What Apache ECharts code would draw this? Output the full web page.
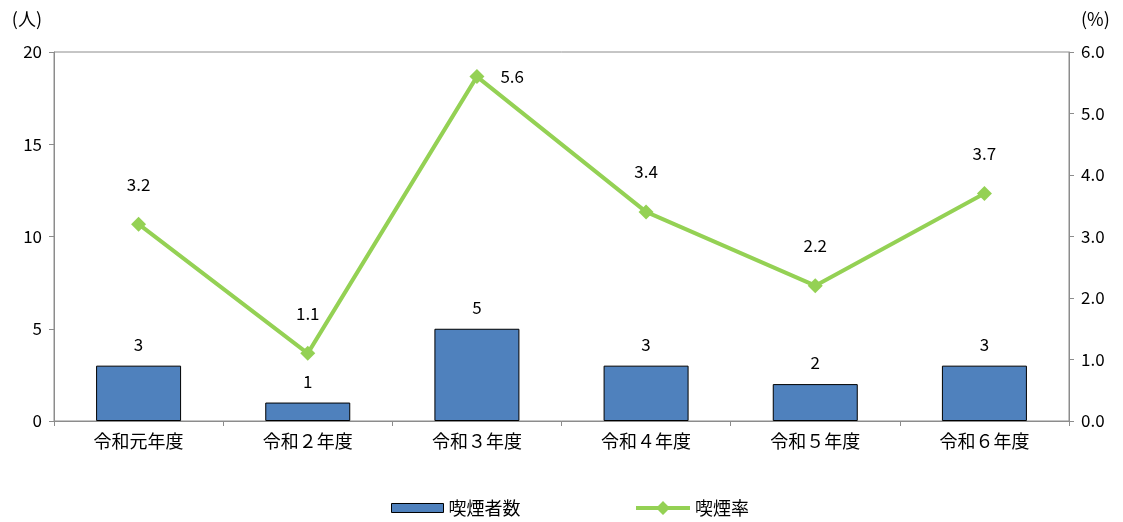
<!DOCTYPE html>
<html><head><meta charset="utf-8">
<script src="https://cdn.jsdelivr.net/npm/echarts@6/dist/echarts.min.js"></script>
<style>html,body{margin:0;padding:0;background:#fff}#c{width:1123px;height:522px}</style>
</head><body><div id="c"></div>
<script>
const categories = ['令和元年度','令和２年度','令和３年度','令和４年度','令和５年度','令和６年度'];
const smokers = [3, 1, 5, 3, 2, 3];
const smokingRate = [3.2, 1.1, 5.6, 3.4, 2.2, 3.7];
const rateLabelPos = ['top','top','right','top','top','top'];
const FONT = '"Noto Sans CJK JP", "Noto Sans", sans-serif';
const LINE_LEGEND_ICON = 'path://M0,5H22L27,0L32,5H54V9H32L27,14L22,9H0Z';

const chart = echarts.init(document.getElementById('c'), null, {renderer:'canvas'});
chart.setOption({
  animation: false,
  textStyle: {fontFamily: FONT, color: '#000'},
  grid: {left: 54, right: 54, top: 52, bottom: 101, show: true, borderColor: '#8c8c8c', borderWidth: 1},
  legend: [
    {
      left: 391, top: 499, padding: 0, itemWidth: 52, itemHeight: 9, itemGap: 6,
      textStyle: {fontFamily: FONT, fontSize: 18, color: '#000'},
      data: [{name: '喫煙者数', icon: 'rect', itemStyle: {color: '#4F81BD', borderColor: '#000', borderWidth: 1}}]
    },
    {
      left: 636, top: 499, padding: 0, itemWidth: 54, itemHeight: 14, itemGap: 6,
      textStyle: {fontFamily: FONT, fontSize: 18, color: '#000'},
      data: [{name: '喫煙率', icon: LINE_LEGEND_ICON, itemStyle: {color: '#94D154', borderWidth: 0}}]
    }
  ],
  xAxis: {
    type: 'category', data: categories, boundaryGap: true,
    axisLine: {lineStyle: {color: '#8c8c8c', width: 1}},
    axisTick: {show: true, alignWithLabel: false, length: 5, lineStyle: {color: '#8c8c8c'}},
    axisLabel: {fontFamily: FONT, fontSize: 18, color: '#000', margin: 11}
  },
  yAxis: [
    {
      type: 'value', min: 0, max: 20, interval: 5,
      name: '(人)', nameLocation: 'end', nameGap: 24,
      nameTextStyle: {fontFamily: FONT, fontSize: 18, color: '#000', align: 'right', padding: [0, 12, 0, 0]},
      axisLine: {show: true, lineStyle: {color: '#8c8c8c'}},
      axisTick: {show: true, length: 5, lineStyle: {color: '#8c8c8c'}},
      splitLine: {show: false},
      axisLabel: {fontFamily: FONT, fontSize: 17, color: '#000', margin: 12}
    },
    {
      type: 'value', min: 0, max: 6, interval: 1,
      name: '(%)', nameLocation: 'end', nameGap: 24,
      nameTextStyle: {fontFamily: FONT, fontSize: 18, color: '#000', align: 'left', padding: [0, 0, 0, 12]},
      axisLine: {show: true, lineStyle: {color: '#8c8c8c'}},
      axisTick: {show: true, length: 5, lineStyle: {color: '#8c8c8c'}},
      splitLine: {show: false},
      axisLabel: {fontFamily: FONT, fontSize: 17, color: '#000', margin: 12, formatter: v => v.toFixed(1)}
    }
  ],
  series: [
    {
      name: '喫煙者数', type: 'bar', yAxisIndex: 0, data: smokers, barWidth: 85,
      itemStyle: {color: '#4F81BD', borderColor: '#000', borderWidth: 1},
      label: {show: true, position: 'top', distance: 13, fontFamily: FONT, fontSize: 17, color: '#000'}
    },
    {
      name: '喫煙率', type: 'line', yAxisIndex: 1,
      data: smokingRate.map((v, i) => ({value: v, label: {position: rateLabelPos[i], distance: rateLabelPos[i] === 'right' ? 16 : 24}})),
      symbol: 'diamond', symbolSize: 15,
      lineStyle: {color: '#94D154', width: 4},
      itemStyle: {color: '#94D154'},
      label: {show: true, fontFamily: FONT, fontSize: 17, color: '#000', formatter: p => p.value.toFixed(1)}
    }
  ]
});
</script></body></html>
